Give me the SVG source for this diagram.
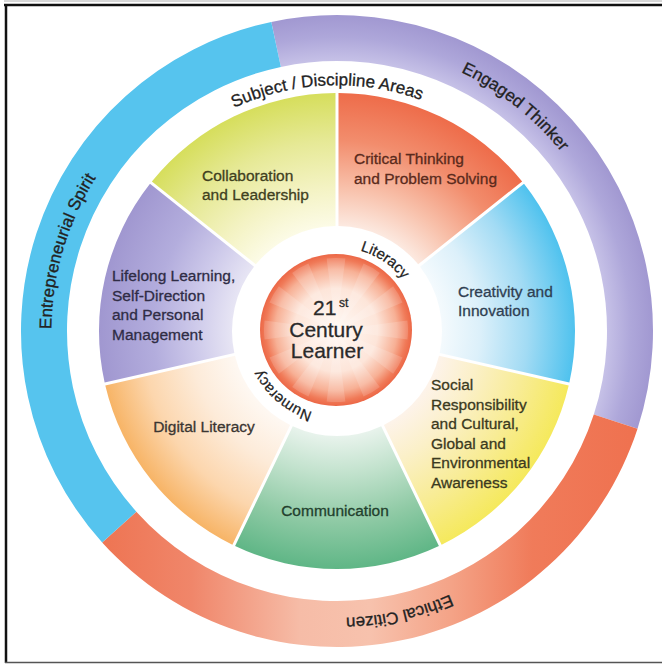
<svg xmlns="http://www.w3.org/2000/svg" width="662" height="664" viewBox="0 0 662 664">
  <style>
    .lbl { font-family: "Liberation Sans", Arial, sans-serif; font-size: 15.5px; stroke-width: 0.3px; }
    .ring { font-family: "Liberation Sans", Arial, sans-serif; font-size: 17px; fill: #222; stroke: #222; stroke-width: 0.3px; }
    .inner { font-family: "Liberation Sans", Arial, sans-serif; font-size: 15px; fill: #222; stroke: #222; stroke-width: 0.25px; }
    .ctr { font-family: "Liberation Sans", Arial, sans-serif; fill: #2a2a2a; stroke: #2a2a2a; stroke-width: 0.3px; }
  </style>
  <defs>
    <path id="wedge" d="M95.24 -44.2 L215.08 -101.91 A238 238 0 0 1 215.08 101.91 L95.24 44.2 A105 105 0 0 0 95.24 -44.2 Z"/>
    <path id="ray" d="M0 0 L71.38 -9.4 A72 72 0 0 1 71.38 9.4 Z"/>
    <radialGradient id="g-collab" gradientUnits="userSpaceOnUse" cx="0" cy="0" r="238">
      <stop offset="0.441" stop-color="#fcfbe6"/>
      <stop offset="0.6" stop-color="#f4f3c4"/>
      <stop offset="0.8" stop-color="#e6e996"/>
      <stop offset="1" stop-color="#d6de5c"/>
    </radialGradient>
    <radialGradient id="g-crit" gradientUnits="userSpaceOnUse" cx="0" cy="0" r="238">
      <stop offset="0.441" stop-color="#fce9e0"/>
      <stop offset="0.6" stop-color="#f8c1ab"/>
      <stop offset="0.8" stop-color="#f28d6d"/>
      <stop offset="1" stop-color="#ee6c4a"/>
    </radialGradient>
    <radialGradient id="g-creat" gradientUnits="userSpaceOnUse" cx="0" cy="0" r="238">
      <stop offset="0.441" stop-color="#f4fafd"/>
      <stop offset="0.6" stop-color="#dcf0fa"/>
      <stop offset="0.8" stop-color="#a2dbf4"/>
      <stop offset="1" stop-color="#4fc2ee"/>
    </radialGradient>
    <radialGradient id="g-social" gradientUnits="userSpaceOnUse" cx="0" cy="0" r="238">
      <stop offset="0.441" stop-color="#fdf3ea"/>
      <stop offset="0.6" stop-color="#fbf0c8"/>
      <stop offset="0.8" stop-color="#f8ec95"/>
      <stop offset="1" stop-color="#f5e95c"/>
    </radialGradient>
    <radialGradient id="g-comm" gradientUnits="userSpaceOnUse" cx="0" cy="0" r="238">
      <stop offset="0.441" stop-color="#e8f3ec"/>
      <stop offset="0.6" stop-color="#c2e2cd"/>
      <stop offset="0.8" stop-color="#8fcaa5"/>
      <stop offset="1" stop-color="#5fb686"/>
    </radialGradient>
    <radialGradient id="g-digital" gradientUnits="userSpaceOnUse" cx="0" cy="0" r="238">
      <stop offset="0.441" stop-color="#fef8f2"/>
      <stop offset="0.62" stop-color="#fdebd9"/>
      <stop offset="0.82" stop-color="#fcd6ad"/>
      <stop offset="1" stop-color="#f7b466"/>
    </radialGradient>
    <radialGradient id="g-life" gradientUnits="userSpaceOnUse" cx="0" cy="0" r="238">
      <stop offset="0.441" stop-color="#e7e5f4"/>
      <stop offset="0.6" stop-color="#cdc9ea"/>
      <stop offset="0.77" stop-color="#b3addd"/>
      <stop offset="1" stop-color="#a097d0"/>
    </radialGradient>
    <radialGradient id="g-center" gradientUnits="userSpaceOnUse" cx="336" cy="330" r="76">
      <stop offset="0" stop-color="#fffaf6"/>
      <stop offset="0.55" stop-color="#fde5d9"/>
      <stop offset="0.8" stop-color="#f7b095"/>
      <stop offset="0.93" stop-color="#f07a58"/>
      <stop offset="1" stop-color="#ec6746"/>
    </radialGradient>
    <radialGradient id="g-engaged" gradientUnits="userSpaceOnUse" cx="337" cy="331" r="316">
      <stop offset="0.854" stop-color="#c6c1e7"/>
      <stop offset="0.93" stop-color="#aea7da"/>
      <stop offset="1" stop-color="#a198d1"/>
    </radialGradient>
    <linearGradient id="g-ethical" gradientUnits="userSpaceOnUse" x1="100" y1="0" x2="640" y2="0">
      <stop offset="0" stop-color="#ee7452"/>
      <stop offset="0.17" stop-color="#f0866a"/>
      <stop offset="0.37" stop-color="#f6bca7"/>
      <stop offset="0.5" stop-color="#f7c2ad"/>
      <stop offset="0.65" stop-color="#f4a387"/>
      <stop offset="0.8" stop-color="#f07b5a"/>
      <stop offset="1" stop-color="#ef714f"/>
    </linearGradient>
    <path id="p-subject" d="M90.22 341.34 A247 247 0 0 1 583.78 320.66"/>
    <path id="p-engaged" d="M112.39 152.34 A287 287 0 0 1 561.61 509.66"/>
    <path id="p-entre" d="M255.97 606.32 A287 287 0 0 1 418.03 55.68"/>
    <path id="p-ethical" d="M617.2 268.88 A287 287 0 0 1 56.8 393.12"/>
    <path id="p-literacy" d="M267.36 284.03 A84 84 0 0 1 406.64 377.97"/>
    <path id="p-numeracy" d="M402.11 385.64 A85 85 0 0 1 271.89 276.36"/>
  </defs>

  <rect x="0" y="0" width="662" height="664" fill="#ffffff"/>
  <!-- frame -->
  <g id="frame" fill="none">
    <line x1="4" y1="1" x2="662" y2="1" stroke="#b0b0b0" stroke-width="1"/>
    <line x1="4" y1="5" x2="662" y2="5" stroke="#111" stroke-width="2.5"/>
    <line x1="6" y1="4" x2="6" y2="663" stroke="#111" stroke-width="2.5"/>
    <line x1="5" y1="662.5" x2="662" y2="662.5" stroke="#555" stroke-width="1.5"/>
  </g>

  <!-- outer ring -->
  <g id="ring-engaged">
    <path d="M271.3 21.9 A316 316 0 0 1 637.53 428.65 L593.79 414.43 A270 270 0 0 0 280.86 66.9 Z" fill="url(#g-engaged)"/>
    <text class="ring"><textPath href="#p-engaged" startOffset="50%" text-anchor="middle">Engaged Thinker</textPath></text>
  </g>
  <g id="ring-ethical">
    <path d="M637.53 428.65 A316 316 0 0 1 102.17 542.45 L136.35 511.67 A270 270 0 0 0 593.79 414.43 Z" fill="url(#g-ethical)"/>
    <text class="ring"><textPath href="#p-ethical" startOffset="50%" text-anchor="middle">Ethical Citizen</textPath></text>
  </g>
  <g id="ring-entrepreneurial">
    <path d="M102.17 542.45 A316 316 0 0 1 271.3 21.9 L280.86 66.9 A270 270 0 0 0 136.35 511.67 Z" fill="#56c4ee"/>
    <text class="ring"><textPath href="#p-entre" startOffset="50%" text-anchor="middle">Entrepreneurial Spirit</textPath></text>
  </g>

  <g id="subject-areas">
    <text class="ring"><textPath href="#p-subject" startOffset="50%" text-anchor="middle">Subject / Discipline Areas</textPath></text>
  </g>

  <!-- segments -->
  <g id="seg-collaboration">
    <use href="#wedge" transform="translate(337 331) rotate(-115.714)" fill="url(#g-collab)"/>
    <text class="lbl" fill="#40401e" stroke="#40401e"><tspan x="202" y="181">Collaboration</tspan><tspan x="202" y="200">and Leadership</tspan></text>
  </g>
  <g id="seg-critical">
    <use href="#wedge" transform="translate(337 331) rotate(-64.286)" fill="url(#g-crit)"/>
    <text class="lbl" fill="#5a2a1c" stroke="#5a2a1c"><tspan x="354" y="164">Critical Thinking</tspan><tspan x="354" y="184">and Problem Solving</tspan></text>
  </g>
  <g id="seg-creativity">
    <use href="#wedge" transform="translate(337 331) rotate(-12.857)" fill="url(#g-creat)"/>
    <text class="lbl" fill="#2f3f52" stroke="#2f3f52"><tspan x="458" y="297">Creativity and</tspan><tspan x="458" y="316">Innovation</tspan></text>
  </g>
  <g id="seg-social">
    <use href="#wedge" transform="translate(337 331) rotate(38.571)" fill="url(#g-social)"/>
    <text class="lbl" fill="#3b3a1f" stroke="#3b3a1f"><tspan x="431" y="390">Social</tspan><tspan x="431" y="409.5">Responsibility</tspan><tspan x="431" y="429">and Cultural,</tspan><tspan x="431" y="448.5">Global and</tspan><tspan x="431" y="468">Environmental</tspan><tspan x="431" y="487.5">Awareness</tspan></text>
  </g>
  <g id="seg-communication">
    <use href="#wedge" transform="translate(337 331) rotate(90)" fill="url(#g-comm)"/>
    <text class="lbl" fill="#22402d" stroke="#22402d" x="335" y="516" text-anchor="middle">Communication</text>
  </g>
  <g id="seg-digital">
    <use href="#wedge" transform="translate(337 331) rotate(141.429)" fill="url(#g-digital)"/>
    <text class="lbl" fill="#3b3632" stroke="#3b3632" x="204" y="432" text-anchor="middle">Digital Literacy</text>
  </g>
  <g id="seg-lifelong">
    <use href="#wedge" transform="translate(337 331) rotate(192.857)" fill="url(#g-life)"/>
    <text class="lbl" fill="#2f2c45" stroke="#2f2c45"><tspan x="112" y="281">Lifelong Learning,</tspan><tspan x="112" y="300.5">Self-Direction</tspan><tspan x="112" y="320">and Personal</tspan><tspan x="112" y="339.5">Management</tspan></text>
  </g>

  <!-- inner ring labels -->
  <g id="label-literacy">
    <text class="inner"><textPath href="#p-literacy" startOffset="50%" text-anchor="middle">Literacy</textPath></text>
  </g>
  <g id="label-numeracy">
    <text class="inner"><textPath href="#p-numeracy" startOffset="50%" text-anchor="middle">Numeracy</textPath></text>
  </g>

  <!-- center -->
  <g id="center-learner">
    <circle cx="336" cy="330" r="76" fill="url(#g-center)"/>
    <g fill="#ffffff" opacity="0.16" transform="translate(336 330)">
      <use href="#ray" transform="rotate(0)"/>
      <use href="#ray" transform="rotate(30)"/>
      <use href="#ray" transform="rotate(60)"/>
      <use href="#ray" transform="rotate(90)"/>
      <use href="#ray" transform="rotate(120)"/>
      <use href="#ray" transform="rotate(150)"/>
      <use href="#ray" transform="rotate(180)"/>
      <use href="#ray" transform="rotate(210)"/>
      <use href="#ray" transform="rotate(240)"/>
      <use href="#ray" transform="rotate(270)"/>
      <use href="#ray" transform="rotate(300)"/>
      <use href="#ray" transform="rotate(330)"/>
    </g>
    <text class="ctr" x="313" y="315" font-size="21">21</text>
    <text class="ctr" x="339" y="307" font-size="12">st</text>
    <text class="ctr" x="326" y="337" font-size="21" text-anchor="middle">Century</text>
    <text class="ctr" x="327" y="358" font-size="21" text-anchor="middle">Learner</text>
  </g>
</svg>
